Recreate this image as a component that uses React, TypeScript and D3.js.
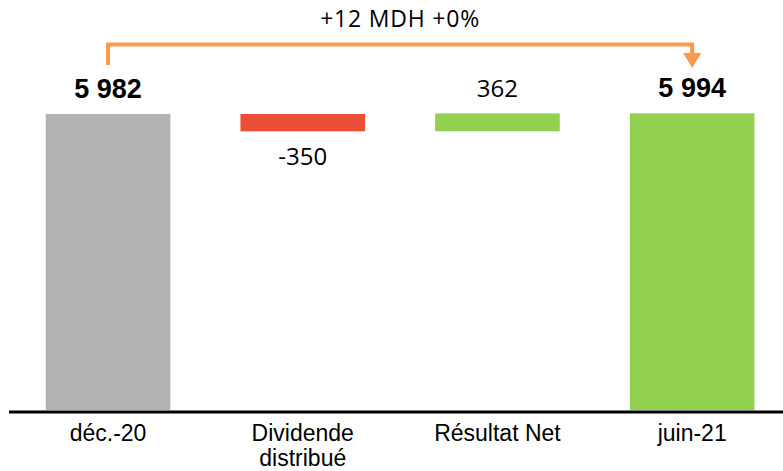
import React from "react";
import * as d3 from "d3";

const categories = ["déc.-20", "Dividende|distribué", "Résultat Net", "juin-21"];
const values = [5982, -350, 362, 5994];
const kinds = ["total", "delta", "delta", "total"];
const valueLabels = ["5 982", "-350", "362", "5 994"];
const colors = ["#B2B2B2", "#EA4E36", "#92D050", "#92D050"];
const titleText = "+12 MDH +0%";

const W = 783;
const H = 471;

export default function App() {
  const x = d3.scaleBand<string>().domain(categories).range([10.7, 789.5]).paddingInner(0.36).paddingOuter(0.18);
  const y = d3.scaleLinear().domain([0, 5982]).range([410, 114]);

  let running = 0;
  const bars = categories.map((c, i) => {
    let y0: number, y1: number;
    if (kinds[i] === "total") {
      y0 = 0;
      y1 = values[i];
      running = values[i];
    } else {
      y0 = running;
      y1 = running + values[i];
      running = y1;
    }
    const top = y(Math.max(y0, y1));
    const bottom = y(Math.min(y0, y1));
    return { c, i, top, bottom, x: x(c)!, w: x.bandwidth() };
  });

  const orange = "#F99A4C";
  const first = bars[0];
  const last = bars[bars.length - 1];
  const lx = first.x + first.w / 2;
  const rx = last.x + last.w / 2;
  const lineY = 44.5;

  return (
    <svg width={W} height={H} style={{ position: "absolute", left: 0, top: 0 }}>
      <rect width={W} height={H} fill="#fff" />
      {bars.map((b) => (
        <rect key={b.c} x={b.x} y={b.top} width={b.w} height={Math.max(b.bottom - b.top, 0)} fill={colors[b.i]} />
      ))}
      <line x1={9} x2={W} y1={412} y2={412} stroke="#000" strokeWidth={3} />
      {bars.map((b) => {
        const cx = b.x + b.w / 2;
        const isTotal = kinds[b.i] === "total";
        const neg = values[b.i] < 0;
        const ty = neg ? b.bottom + 34 : b.top - 16;
        return (
          <text
            key={"v" + b.c}
            x={cx}
            y={ty}
            textAnchor="middle"
            fontFamily={isTotal ? "Liberation Sans, Arial, sans-serif" : "Open Sans, sans-serif"}
            fontWeight={isTotal ? "bold" : "normal"}
            fontSize={isTotal ? 27 : 24}
            fill="#000"
          >
            {valueLabels[b.i]}
          </text>
        );
      })}
      {bars.map((b) => {
        const cx = b.x + b.w / 2;
        const lines = b.c.split("|");
        return (
          <text key={"c" + b.c} x={cx} y={441} textAnchor="middle" fontFamily="Liberation Sans, Arial, sans-serif" fontSize={23} fill="#000">
            {lines.map((l, k) => (
              <tspan key={k} x={cx} dy={k === 0 ? 0 : 25}>
                {l}
              </tspan>
            ))}
          </text>
        );
      })}
      <path d={`M${lx},65 V${lineY} H${rx} V56`} fill="none" stroke={orange} strokeWidth={4} />
      <path d={`M${rx - 9},53 L${rx + 9},53 L${rx},68 Z`} fill={orange} />
      <text x={(lx + rx) / 2} y={27} textAnchor="middle" fontFamily="Open Sans, sans-serif" fontSize={23} letterSpacing={0.8} fill="#000">
        {titleText}
      </text>
    </svg>
  );
}
